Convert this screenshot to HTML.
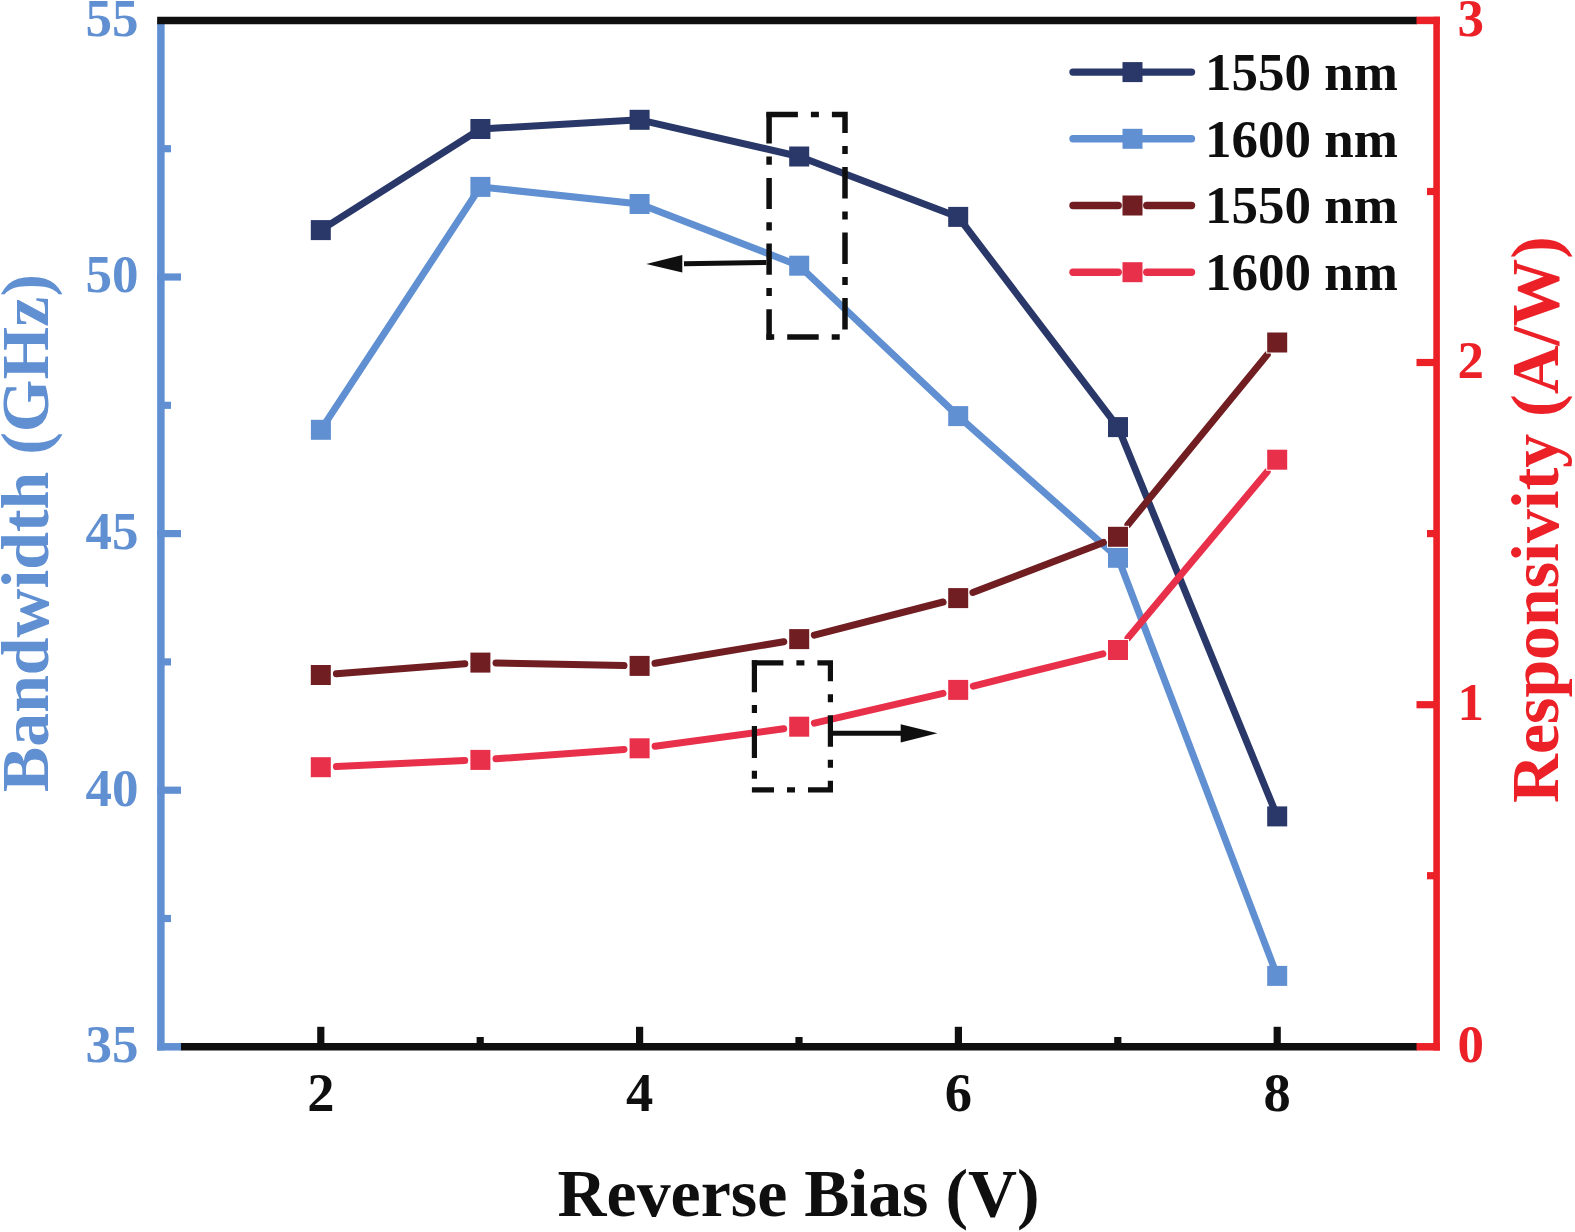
<!DOCTYPE html>
<html lang="en"><head><meta charset="utf-8"><title>Bandwidth and Responsivity vs Reverse Bias</title>
<style>html,body{margin:0;padding:0;background:#fff}body{width:1575px;height:1232px;position:relative;overflow:hidden;font-family:"Liberation Serif","Times New Roman",serif}</style>
</head><body>
<svg width="1575" height="1232" viewBox="0 0 1575 1232" style="display:block;position:absolute;left:0;top:0">
<rect width="1575" height="1232" fill="#fff"/>
<polyline points="320.8,230.1 480.4,129.0 639.6,119.8 799.2,156.5 958.2,216.9 1118.0,427.1 1277.2,816.4" fill="none" stroke="#293868" stroke-width="7" stroke-linejoin="round" stroke-linecap="butt"/>
<rect x="310.8" y="220.1" width="20" height="20" fill="#293868"/>
<rect x="470.4" y="119.0" width="20" height="20" fill="#293868"/>
<rect x="629.6" y="109.8" width="20" height="20" fill="#293868"/>
<rect x="789.2" y="146.5" width="20" height="20" fill="#293868"/>
<rect x="948.2" y="206.9" width="20" height="20" fill="#293868"/>
<rect x="1108.0" y="417.1" width="20" height="20" fill="#293868"/>
<rect x="1267.2" y="806.4" width="20" height="20" fill="#293868"/>
<polyline points="320.9,429.8 480.4,186.9 639.6,204.0 799.2,265.7 958.2,416.1 1118.0,557.8 1277.2,975.9" fill="none" stroke="#6090d2" stroke-width="7" stroke-linejoin="round" stroke-linecap="butt"/>
<rect x="310.9" y="419.8" width="20" height="20" fill="#6090d2"/>
<rect x="470.4" y="176.9" width="20" height="20" fill="#6090d2"/>
<rect x="629.6" y="194.0" width="20" height="20" fill="#6090d2"/>
<rect x="789.2" y="255.7" width="20" height="20" fill="#6090d2"/>
<rect x="948.2" y="406.1" width="20" height="20" fill="#6090d2"/>
<rect x="1108.0" y="547.8" width="20" height="20" fill="#6090d2"/>
<rect x="1267.2" y="965.9" width="20" height="20" fill="#6090d2"/>
<line x1="336.4" y1="673.8" x2="464.8" y2="663.8" stroke="#701e22" stroke-width="7" stroke-linecap="round"/>
<line x1="496.0" y1="662.9" x2="624.0" y2="665.6" stroke="#701e22" stroke-width="7" stroke-linecap="round"/>
<line x1="655.0" y1="663.3" x2="783.8" y2="641.7" stroke="#701e22" stroke-width="7" stroke-linecap="round"/>
<line x1="814.3" y1="635.2" x2="943.1" y2="602.0" stroke="#701e22" stroke-width="7" stroke-linecap="round"/>
<line x1="972.8" y1="592.5" x2="1103.4" y2="542.4" stroke="#701e22" stroke-width="7" stroke-linecap="round"/>
<line x1="1127.9" y1="524.7" x2="1267.3" y2="354.6" stroke="#701e22" stroke-width="7" stroke-linecap="round"/>
<rect x="309.8" y="664.0" width="22" height="22" fill="#fff"/>
<rect x="310.8" y="665.0" width="20" height="20" fill="#701e22"/>
<rect x="469.4" y="651.6" width="22" height="22" fill="#fff"/>
<rect x="470.4" y="652.6" width="20" height="20" fill="#701e22"/>
<rect x="628.6" y="654.9" width="22" height="22" fill="#fff"/>
<rect x="629.6" y="655.9" width="20" height="20" fill="#701e22"/>
<rect x="788.2" y="628.1" width="22" height="22" fill="#fff"/>
<rect x="789.2" y="629.1" width="20" height="20" fill="#701e22"/>
<rect x="947.2" y="587.1" width="22" height="22" fill="#fff"/>
<rect x="948.2" y="588.1" width="20" height="20" fill="#701e22"/>
<rect x="1107.0" y="525.8" width="22" height="22" fill="#fff"/>
<rect x="1108.0" y="526.8" width="20" height="20" fill="#701e22"/>
<rect x="1266.2" y="331.5" width="22" height="22" fill="#fff"/>
<rect x="1267.2" y="332.5" width="20" height="20" fill="#701e22"/>
<line x1="336.4" y1="766.5" x2="464.8" y2="760.6" stroke="#e8304a" stroke-width="7" stroke-linecap="round"/>
<line x1="496.0" y1="758.8" x2="624.0" y2="749.4" stroke="#e8304a" stroke-width="7" stroke-linecap="round"/>
<line x1="655.1" y1="746.2" x2="783.7" y2="728.8" stroke="#e8304a" stroke-width="7" stroke-linecap="round"/>
<line x1="814.4" y1="723.2" x2="943.0" y2="693.4" stroke="#e8304a" stroke-width="7" stroke-linecap="round"/>
<line x1="973.3" y1="686.1" x2="1102.9" y2="653.8" stroke="#e8304a" stroke-width="7" stroke-linecap="round"/>
<line x1="1128.0" y1="638.0" x2="1267.2" y2="471.7" stroke="#e8304a" stroke-width="7" stroke-linecap="round"/>
<rect x="309.8" y="756.2" width="22" height="22" fill="#fff"/>
<rect x="310.8" y="757.2" width="20" height="20" fill="#e8304a"/>
<rect x="469.4" y="748.9" width="22" height="22" fill="#fff"/>
<rect x="470.4" y="749.9" width="20" height="20" fill="#e8304a"/>
<rect x="628.6" y="737.3" width="22" height="22" fill="#fff"/>
<rect x="629.6" y="738.3" width="20" height="20" fill="#e8304a"/>
<rect x="788.2" y="715.7" width="22" height="22" fill="#fff"/>
<rect x="789.2" y="716.7" width="20" height="20" fill="#e8304a"/>
<rect x="947.2" y="678.9" width="22" height="22" fill="#fff"/>
<rect x="948.2" y="679.9" width="20" height="20" fill="#e8304a"/>
<rect x="1107.0" y="639.0" width="22" height="22" fill="#fff"/>
<rect x="1108.0" y="640.0" width="20" height="20" fill="#e8304a"/>
<rect x="1266.2" y="448.7" width="22" height="22" fill="#fff"/>
<rect x="1267.2" y="449.7" width="20" height="20" fill="#e8304a"/>
<line x1="160.9" y1="20.4" x2="160.9" y2="1050.55" stroke="#6090d2" stroke-width="7.5"/>
<line x1="157.15" y1="20.4" x2="1417" y2="20.4" stroke="#0f0f0f" stroke-width="7.5"/>
<line x1="180.5" y1="1046.8" x2="1417" y2="1046.8" stroke="#0f0f0f" stroke-width="7.5"/>
<line x1="320.8" y1="1026.8" x2="320.8" y2="1046.8" stroke="#0f0f0f" stroke-width="7.2"/>
<line x1="480.2" y1="1037" x2="480.2" y2="1046.8" stroke="#0f0f0f" stroke-width="7.2"/>
<line x1="639.6" y1="1026.8" x2="639.6" y2="1046.8" stroke="#0f0f0f" stroke-width="7.2"/>
<line x1="799.0" y1="1037" x2="799.0" y2="1046.8" stroke="#0f0f0f" stroke-width="7.2"/>
<line x1="958.4" y1="1026.8" x2="958.4" y2="1046.8" stroke="#0f0f0f" stroke-width="7.2"/>
<line x1="1117.8" y1="1037" x2="1117.8" y2="1046.8" stroke="#0f0f0f" stroke-width="7.2"/>
<line x1="1277.2" y1="1026.8" x2="1277.2" y2="1046.8" stroke="#0f0f0f" stroke-width="7.2"/>
<line x1="160.9" y1="148.7" x2="171" y2="148.7" stroke="#6090d2" stroke-width="7.2"/>
<line x1="157.15" y1="277.0" x2="181" y2="277.0" stroke="#6090d2" stroke-width="7.2"/>
<line x1="160.9" y1="405.3" x2="171" y2="405.3" stroke="#6090d2" stroke-width="7.2"/>
<line x1="157.15" y1="533.6" x2="181" y2="533.6" stroke="#6090d2" stroke-width="7.2"/>
<line x1="160.9" y1="661.9" x2="171" y2="661.9" stroke="#6090d2" stroke-width="7.2"/>
<line x1="157.15" y1="790.2" x2="181" y2="790.2" stroke="#6090d2" stroke-width="7.2"/>
<line x1="160.9" y1="918.5" x2="171" y2="918.5" stroke="#6090d2" stroke-width="7.2"/>
<line x1="157.15" y1="1046.8" x2="181" y2="1046.8" stroke="#6090d2" stroke-width="7.5"/>
<line x1="1436.6" y1="16.65" x2="1436.6" y2="1050.55" stroke="#ec2027" stroke-width="6.6"/>
<line x1="1416.5" y1="20.4" x2="1439.8999999999999" y2="20.4" stroke="#ec2027" stroke-width="7.5"/>
<line x1="1427" y1="191.5" x2="1436.6" y2="191.5" stroke="#ec2027" stroke-width="7.2"/>
<line x1="1416.5" y1="362.5" x2="1436.6" y2="362.5" stroke="#ec2027" stroke-width="7.2"/>
<line x1="1427" y1="533.6" x2="1436.6" y2="533.6" stroke="#ec2027" stroke-width="7.2"/>
<line x1="1416.5" y1="704.7" x2="1436.6" y2="704.7" stroke="#ec2027" stroke-width="7.2"/>
<line x1="1427" y1="875.7" x2="1436.6" y2="875.7" stroke="#ec2027" stroke-width="7.2"/>
<line x1="1416.5" y1="1046.8" x2="1439.8999999999999" y2="1046.8" stroke="#ec2027" stroke-width="7.5"/>
<text x="138.5" y="35.8" font-family="Liberation Serif, Times New Roman, serif" font-weight="bold" font-size="53" fill="#6090d2" text-anchor="end">55</text>
<text x="138.5" y="292.4" font-family="Liberation Serif, Times New Roman, serif" font-weight="bold" font-size="53" fill="#6090d2" text-anchor="end">50</text>
<text x="138.5" y="549.0" font-family="Liberation Serif, Times New Roman, serif" font-weight="bold" font-size="53" fill="#6090d2" text-anchor="end">45</text>
<text x="138.5" y="805.6" font-family="Liberation Serif, Times New Roman, serif" font-weight="bold" font-size="53" fill="#6090d2" text-anchor="end">40</text>
<text x="138.5" y="1062.2" font-family="Liberation Serif, Times New Roman, serif" font-weight="bold" font-size="53" fill="#6090d2" text-anchor="end">35</text>
<text x="1457.5" y="35.8" font-family="Liberation Serif, Times New Roman, serif" font-weight="bold" font-size="53" fill="#ec2027" text-anchor="start">3</text>
<text x="1457.5" y="377.9" font-family="Liberation Serif, Times New Roman, serif" font-weight="bold" font-size="53" fill="#ec2027" text-anchor="start">2</text>
<text x="1457.5" y="720.1" font-family="Liberation Serif, Times New Roman, serif" font-weight="bold" font-size="53" fill="#ec2027" text-anchor="start">1</text>
<text x="1457.5" y="1062.2" font-family="Liberation Serif, Times New Roman, serif" font-weight="bold" font-size="53" fill="#ec2027" text-anchor="start">0</text>
<text x="320.8" y="1111" font-family="Liberation Serif, Times New Roman, serif" font-weight="bold" font-size="54.5" fill="#0f0f0f" text-anchor="middle">2</text>
<text x="639.6" y="1111" font-family="Liberation Serif, Times New Roman, serif" font-weight="bold" font-size="54.5" fill="#0f0f0f" text-anchor="middle">4</text>
<text x="958.4" y="1111" font-family="Liberation Serif, Times New Roman, serif" font-weight="bold" font-size="54.5" fill="#0f0f0f" text-anchor="middle">6</text>
<text x="1277.2" y="1111" font-family="Liberation Serif, Times New Roman, serif" font-weight="bold" font-size="54.5" fill="#0f0f0f" text-anchor="middle">8</text>
<text x="798.6" y="1216" font-family="Liberation Serif, Times New Roman, serif" font-weight="bold" font-size="67.8" fill="#0f0f0f" text-anchor="middle">Reverse Bias (V)</text>
<text transform="translate(47.5,533) rotate(-90)" font-family="Liberation Serif, Times New Roman, serif" font-weight="bold" font-size="67.8" fill="#6090d2" text-anchor="middle">Bandwidth (GHz)</text>
<text transform="translate(1558.1,519.6) rotate(-90)" font-family="Liberation Serif, Times New Roman, serif" font-weight="bold" font-size="67.8" fill="#ec2027" text-anchor="middle">Responsivity (A/W)</text>
<line x1="1073" y1="72.1" x2="1191.5" y2="72.1" stroke="#293868" stroke-width="7.4" stroke-linecap="round"/>
<rect x="1122.5" y="62.1" width="20" height="20" fill="#293868"/>
<text x="1205" y="89.9" font-family="Liberation Serif, Times New Roman, serif" font-weight="bold" font-size="53" fill="#0f0f0f">1550 nm</text>
<line x1="1073" y1="138.8" x2="1191.5" y2="138.8" stroke="#6090d2" stroke-width="7.4" stroke-linecap="round"/>
<rect x="1122.5" y="128.8" width="20" height="20" fill="#6090d2"/>
<text x="1205" y="156.6" font-family="Liberation Serif, Times New Roman, serif" font-weight="bold" font-size="53" fill="#0f0f0f">1600 nm</text>
<line x1="1073" y1="205.5" x2="1118.2" y2="205.5" stroke="#701e22" stroke-width="7.4" stroke-linecap="round"/>
<line x1="1146.8" y1="205.5" x2="1191.5" y2="205.5" stroke="#701e22" stroke-width="7.4" stroke-linecap="round"/>
<rect x="1122.5" y="195.5" width="20" height="20" fill="#701e22"/>
<text x="1205" y="223.3" font-family="Liberation Serif, Times New Roman, serif" font-weight="bold" font-size="53" fill="#0f0f0f">1550 nm</text>
<line x1="1073" y1="272.2" x2="1118.2" y2="272.2" stroke="#e8304a" stroke-width="7.4" stroke-linecap="round"/>
<line x1="1146.8" y1="272.2" x2="1191.5" y2="272.2" stroke="#e8304a" stroke-width="7.4" stroke-linecap="round"/>
<rect x="1122.5" y="262.2" width="20" height="20" fill="#e8304a"/>
<text x="1205" y="290.0" font-family="Liberation Serif, Times New Roman, serif" font-weight="bold" font-size="53" fill="#0f0f0f">1600 nm</text>
<path d="M766.4,114.5 H845 V337.1 H766.4" fill="none" stroke="#0f0f0f" stroke-width="5.5" stroke-dasharray="31.5 13 8 13"/>
<line x1="769.1" y1="112.2" x2="769.1" y2="339.8" stroke="#0f0f0f" stroke-width="5.5" stroke-dasharray="31.2 13.2 8.1 13.2"/>
<path d="M751.9,662.8 H830.4 V789.9 H751.9" fill="none" stroke="#0f0f0f" stroke-width="5.2" stroke-dasharray="31.5 13 8 13"/>
<line x1="754.4" y1="660.3" x2="754.4" y2="789.9" stroke="#0f0f0f" stroke-width="5.2" stroke-dasharray="32 12.7 8 13"/>
<line x1="684" y1="263.8" x2="766.3" y2="262.4" stroke="#0f0f0f" stroke-width="5"/>
<polygon points="646.3,263.9 682.3,255.1 682.3,272.6" fill="#0f0f0f"/>
<line x1="832.9" y1="733.3" x2="903" y2="733.3" stroke="#0f0f0f" stroke-width="5"/>
<polygon points="937.4,733.3 900.7,724.3 900.7,742.5" fill="#0f0f0f"/>
</svg>
</body></html>
